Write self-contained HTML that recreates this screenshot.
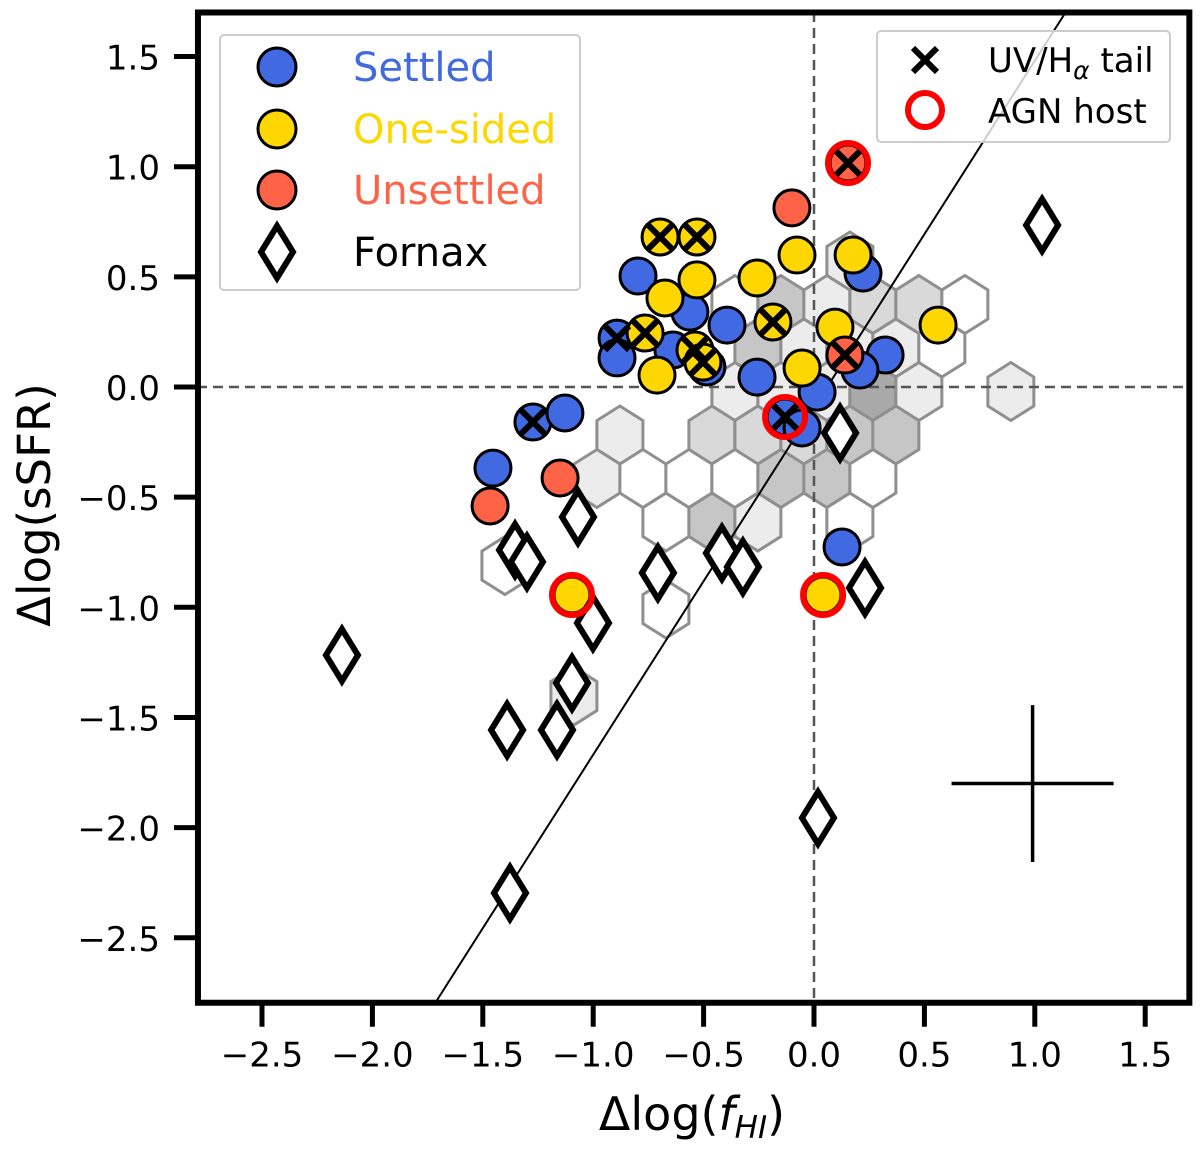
<!DOCTYPE html>
<html><head><meta charset="utf-8"><style>
body{margin:0;background:#fff;}
svg{display:block;font-family:"DejaVu Sans","Liberation Sans",sans-serif;}
</style></head><body>
<svg id="chart" width="1200" height="1150" viewBox="0 0 1200 1150" xmlns="http://www.w3.org/2000/svg">
<rect x="0" y="0" width="1200" height="1150" fill="#fff"/>
<g id="hexes"></g>
<g id="refs"></g>
<g id="marks"></g>
<g id="axes"></g>
<text x="692" y="1130" text-anchor="middle" font-size="46">Δlog(<tspan font-style="italic">f</tspan><tspan font-style="italic" font-size="31" dy="8">HI</tspan><tspan dy="-8">)</tspan></text>
<text transform="translate(50,505) rotate(-90)" text-anchor="middle" font-size="45">Δlog(sSFR)</text>
<g>
<rect x="220" y="35" width="360" height="255" rx="4" fill="#fff" fill-opacity="0.8" stroke="#ccc" stroke-width="2"/>
<g><circle cx="277" cy="67" r="19" fill="#4169e1" stroke="#000" stroke-width="3"/><text x="353" y="81" font-size="40" fill="#4169e1">Settled</text></g>
<g><circle cx="277" cy="129" r="19" fill="#ffd700" stroke="#000" stroke-width="3"/><text x="353" y="143" font-size="40" fill="#ffd700">One-sided</text></g>
<g><circle cx="277" cy="190" r="19" fill="#ff6347" stroke="#000" stroke-width="3"/><text x="353" y="204" font-size="40" fill="#ff6347">Unsettled</text></g>
<g><polygon points="277,226 293,252 277,278 261,252" fill="#fff" stroke="#000" stroke-width="6"/><text x="353" y="266" font-size="40" fill="#000">Fornax</text></g>
</g>
<g>
<rect x="877" y="31" width="293" height="111" rx="4" fill="#fff" fill-opacity="0.8" stroke="#ccc" stroke-width="2"/>
<g><path d="M913,48 L937,72 M937,48 L913,72" stroke="#000" stroke-width="6"/><text x="988" y="72" font-size="34">UV/H<tspan font-size="25" font-style="italic" dy="7">α</tspan><tspan dy="-7"> tail</tspan></text></g>
<g><circle cx="925" cy="110" r="17" fill="none" stroke="#ff0000" stroke-width="6"/><text x="988" y="123" font-size="34">AGN host</text></g>
</g>
</svg>
<script>
// axis mapping
const X0=814, XS=220.8, Y0=387, YS=220.3;
function sx(v){return X0+v*XS;}
function sy(v){return Y0-v*YS;}
const NS='http://www.w3.org/2000/svg';
function mk(tag,attrs,parent){const e=document.createElementNS(NS,tag);for(const k in attrs)e.setAttribute(k,attrs[k]);parent.appendChild(e);return e;}

const xTicks=[-2.5,-2.0,-1.5,-1.0,-0.5,0.0,0.5,1.0,1.5];
const yTicks=[1.5,1.0,0.5,0.0,-0.5,-1.0,-1.5,-2.0,-2.5];
const xLim=[-2.79,1.70];
const yLim=[-2.795,1.70];

// hexbin cells: [col,row,count]
const hexCells=[[5,-4,1],
[3,-3,0],[4,-3,3],[5,-3,1],[6,-3,2],[7,-3,2],[8,-3,0],
[3,-2,3],[4,-2,1],[5,-2,1],[6,-2,1],[7,-2,0],
[3,-1,1],[4,-1,1],[5,-1,1],[6,-1,4],[7,-1,1],[9,-1,1],
[0,0,1],[2,0,2],[3,0,2],[4,0,2],[5,0,3],[6,0,3],
[0,1,1],[1,1,0],[2,1,0],[3,1,0],[4,1,3],[5,1,3],[6,1,0],
[1,2,0],[2,2,3],[3,2,1],[5,2,0],
[-2,3,0],[1,4,0],[-1,6,1]];
const hexX0=-0.879, hexDX=0.2083, hexY0=-0.218, hexDY=0.1975;
const hexFill=['#ffffff','#ececec','#d9d9d9','#c6c6c6','#a9a9a9'];

const settledX=[-0.797,-0.562,-0.394,-0.892,-0.892,-0.639,-0.485,-0.258,0.014,0.222,0.322,0.208,-0.131,-0.054,-1.273,-1.128,-1.454,0.127];
const settledY=[0.504,0.340,0.281,0.222,0.132,0.168,0.091,0.045,-0.023,0.517,0.145,0.077,-0.136,-0.186,-0.159,-0.118,-0.368,-0.726];
const oneSidedX=[-0.697,-0.530,-0.530,-0.675,-0.765,-0.539,-0.503,-0.711,-0.258,-0.077,-0.186,0.095,-0.054,0.177,0.562,-1.096,0.041];
const oneSidedY=[0.681,0.681,0.486,0.404,0.245,0.168,0.113,0.054,0.495,0.599,0.295,0.272,0.086,0.599,0.281,-0.944,-0.944];
const unsettledX=[-0.100,0.154,0.140,-1.150,-1.467];
const unsettledY=[0.813,1.017,0.145,-0.413,-0.540];
const fornaxX=[1.033,0.118,-1.069,-1.354,-1.300,-1.001,-1.096,-1.164,-1.390,-0.707,-0.417,-0.322,0.231,-2.138,0.018,-1.377];
const fornaxY=[0.735,-0.209,-0.590,-0.740,-0.794,-1.071,-1.344,-1.557,-1.557,-0.844,-0.754,-0.817,-0.912,-1.217,-1.956,-2.297];
const tailX=[-0.892,-1.273,-0.131,-0.697,-0.530,-0.765,-0.539,-0.503,-0.186,0.154,0.140];
const tailY=[0.222,-0.159,-0.136,0.681,0.681,0.245,0.168,0.113,0.295,1.017,0.145];
const agnX=[0.154,-0.131,-1.096,0.041];
const agnY=[1.017,-0.136,-0.944,-0.944];
const fitSlope=1.575, fitIntercept=-0.094;
const errX=[0.99], errY=[-1.80], errXErr=[0.367], errYErr=[0.356];

const hexG=document.getElementById('hexes');
hexCells.forEach(c=>{
  const odd=Math.abs(c[1])%2===1;
  const cx=sx(hexX0+(c[0]-(odd?0.5:0))*hexDX), cy=sy(hexY0-c[1]*hexDY);
  const pts=[[0,-29],[23,-14.5],[23,14.5],[0,29],[-23,14.5],[-23,-14.5]].map(p=>(cx+p[0])+','+(cy+p[1])).join(' ');
  const h=mk('polygon',{points:pts,fill:hexFill[c[2]],stroke:'#8f8f8f',"stroke-width":3},hexG);
  
  
});

const refG=document.getElementById('refs');
const vl=mk('line',{x1:sx(0),y1:12,x2:sx(0),y2:1000,stroke:'#555',"stroke-width":2.5,"stroke-dasharray":"10,6"},refG);


const hl=mk('line',{x1:197,y1:sy(0),x2:1190,y2:sy(0),stroke:'#555',"stroke-width":2.5,"stroke-dasharray":"10,6"},refG);


const fy1=yLim[0], fy2=yLim[1];
const fl=mk('line',{x1:sx((fy1-fitIntercept)/fitSlope),y1:sy(fy1),x2:sx((fy2-fitIntercept)/fitSlope),y2:sy(fy2),stroke:'#000',"stroke-width":2},refG);


errX.forEach((v,i)=>{
  const e1=mk('line',{x1:sx(v-errXErr[i]),y1:sy(errY[i]),x2:sx(v+errXErr[i]),y2:sy(errY[i]),stroke:'#000',"stroke-width":3.5},refG);
  
  
  const e2=mk('line',{x1:sx(v),y1:sy(errY[i]-errYErr[i]),x2:sx(v),y2:sy(errY[i]+errYErr[i]),stroke:'#000',"stroke-width":3.5},refG);
  
  
});

const mG=document.getElementById('marks');
function circles(xs,ys,fill,name){
  xs.forEach((v,i)=>{
    const c=mk('circle',{cx:sx(v),cy:sy(ys[i]),r:18,fill:fill,stroke:'#000',"stroke-width":3},mG);
    
    
  });
}
circles(settledX,settledY,'#4169e1','settled-point');
circles(oneSidedX,oneSidedY,'#ffd700','one-sided-point');
circles(unsettledX,unsettledY,'#ff6347','unsettled-point');
fornaxX.forEach((v,i)=>{
  const cx=sx(v), cy=sy(fornaxY[i]);
  const d=mk('polygon',{points:`${cx},${cy-26} ${cx+16},${cy} ${cx},${cy+26} ${cx-16},${cy}`,fill:'#fff',stroke:'#000',"stroke-width":6},mG);
  
  
});
tailX.forEach((v,i)=>{
  const cx=sx(v), cy=sy(tailY[i]);
  const p=mk('path',{d:`M${cx-12},${cy-12} L${cx+12},${cy+12} M${cx+12},${cy-12} L${cx-12},${cy+12}`,stroke:'#000',"stroke-width":6},mG);
  
  
});
agnX.forEach((v,i)=>{
  const c=mk('circle',{cx:sx(v),cy:sy(agnY[i]),r:20,fill:'none',stroke:'#ff0000',"stroke-width":6},mG);
  
  
});

const aG=document.getElementById('axes');
const frame=mk('rect',{x:sx(xLim[0]),y:sy(yLim[1]),width:sx(xLim[1])-sx(xLim[0]),height:sy(yLim[0])-sy(yLim[1]),fill:'none',stroke:'#000',"stroke-width":6},aG);


const yb=sy(yLim[0]), xl=sx(xLim[0]);
xTicks.forEach(t=>{
  const l=mk('line',{x1:sx(t),y1:yb,x2:sx(t),y2:yb+24,stroke:'#000',"stroke-width":5},aG);
  
  
  const tx=mk('text',{x:sx(t),y:yb+64,"text-anchor":"middle","font-size":34},aG);
  tx.textContent=(t<0?'\u2212':'')+Math.abs(t).toFixed(1);
  
  
});
yTicks.forEach(t=>{
  const l=mk('line',{x1:xl-24,y1:sy(t),x2:xl,y2:sy(t),stroke:'#000',"stroke-width":5},aG);
  
  
  const tx=mk('text',{x:xl-38,y:sy(t)+13,"text-anchor":"end","font-size":34},aG);
  tx.textContent=(t<0?'\u2212':'')+Math.abs(t).toFixed(1);
  
  
});
</script>
</body></html>
